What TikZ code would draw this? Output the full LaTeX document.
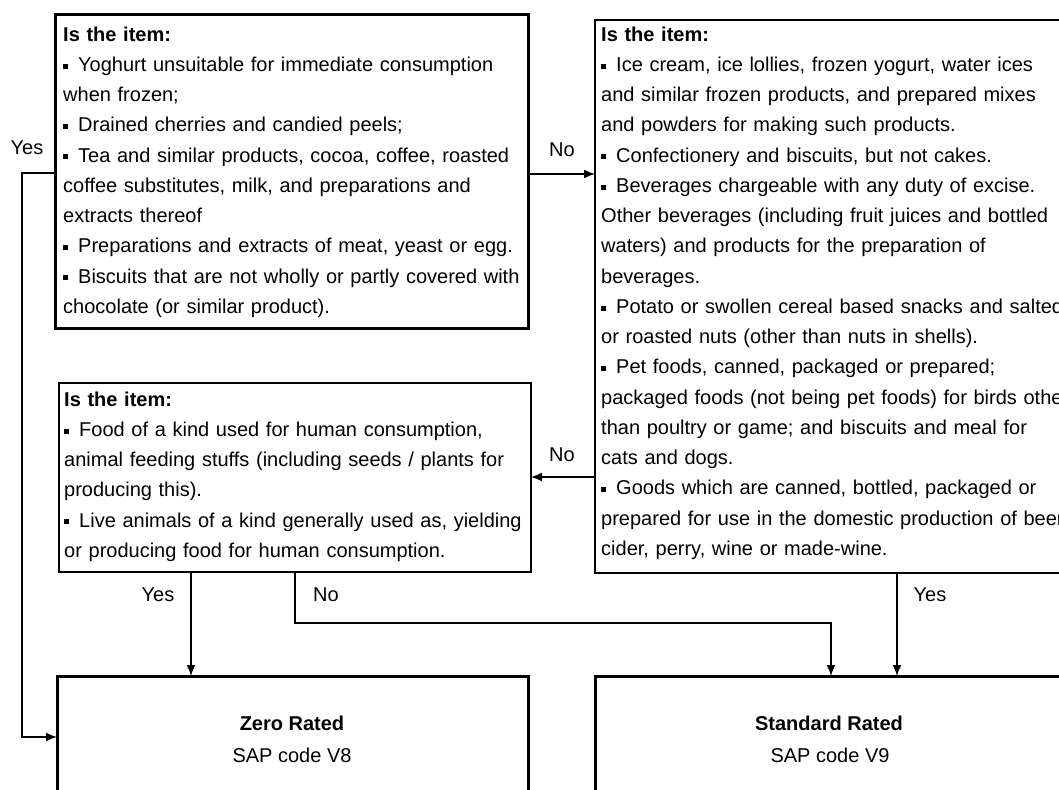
\documentclass[tikz,border=0pt]{standalone}
\usepackage{fontspec}
\setmainfont{Liberation Sans}
\usetikzlibrary{arrows.meta}
\newcommand\sqbul{\rule[0.14em]{0.25em}{0.25em}\hspace{0.5em}}
\begin{document}
\begin{tikzpicture}[x=1pt,y=-1pt,
  font=\fontsize{20}{30.25}\selectfont,
  boxthick/.style={draw, line width=3pt, outer sep=0pt, inner sep=0pt, anchor=north west},
  boxthin/.style={draw, line width=1.6pt, outer sep=0pt, inner sep=0pt, anchor=north west},
  txt/.style={anchor=north west, inner sep=0pt, text width=#1, align=left},
  conn/.style={line width=1.5pt},
  arr/.style={conn, -{Latex[length=11pt,width=9pt]}},
  lbl/.style={inner sep=0pt}]
\useasboundingbox (0,0) rectangle (1059,789);
\clip (0,0) rectangle (1059,789);

% boxes
\node[boxthick, minimum width=473pt, minimum height=313pt] (b1) at (55,15) {};
\node[boxthin, minimum width=469pt, minimum height=553pt] (b2) at (595,20) {};
\node[boxthin, minimum width=472pt, minimum height=189pt] (b3) at (59,383) {};
\node[boxthick, minimum width=471pt, minimum height=150pt] (b4) at (57,676) {};
\node[boxthick, minimum width=468pt, minimum height=150pt] (b5) at (595,676) {};

% texts
\node[txt=560pt] (t1) at (63,19.8) {\strut\textbf{Is the item:}\\
\sqbul Yoghurt unsuitable for immediate consumption\\
when frozen;\\
\sqbul Drained cherries and candied peels;\\
\sqbul Tea and similar products, cocoa, coffee, roasted\\
coffee substitutes, milk, and preparations and\\
extracts thereof\\
\sqbul Preparations and extracts of meat, yeast or egg.\\
\sqbul Biscuits that are not wholly or partly covered with\\
chocolate (or similar product).};

\node[txt=600pt] (t2) at (601,19.8) {\strut\textbf{Is the item:}\\
\sqbul Ice cream, ice lollies, frozen yogurt, water ices\\
and similar frozen products, and prepared mixes\\
and powders for making such products.\\
\sqbul Confectionery and biscuits, but not cakes.\\
\sqbul Beverages chargeable with any duty of excise.\\
Other beverages (including fruit juices and bottled\\
waters) and products for the preparation of\\
beverages.\\
\sqbul Potato or swollen cereal based snacks and salted\\
or roasted nuts (other than nuts in shells).\\
\sqbul Pet foods, canned, packaged or prepared;\\
packaged foods (not being pet foods) for birds other\\
than poultry or game; and biscuits and meal for\\
cats and dogs.\\
\sqbul Goods which are canned, bottled, packaged or\\
prepared for use in the domestic production of beer,\\
cider, perry, wine or made-wine.};

\node[txt=560pt] (t3) at (64,384.8) {\strut\textbf{Is the item:}\\
\sqbul Food of a kind used for human consumption,\\
animal feeding stuffs (including seeds / plants for\\
producing this).\\
\sqbul Live animals of a kind generally used as, yielding\\
or producing food for human consumption.};

\node[anchor=base, inner sep=0pt] (z1) at (292,730) {\textbf{Zero Rated}};
\node[anchor=base, inner sep=0pt] (z2) at (292,762) {SAP code V8};
\node[anchor=base, inner sep=0pt] (s1) at (829,730) {\textbf{Standard Rated}};
\node[anchor=base, inner sep=0pt] (s2) at (830,762) {SAP code V9};

% connectors
\coordinate (c1) at (22,173);
\coordinate (c2) at (22,737);
\draw[arr] (c1 -| b1.west) -- (c1) -- (c2) -- (c2 -| b4.west);
\coordinate (c3) at (0,174);
\draw[arr] (c3 -| b1.east) -- (c3 -| b2.west);
\coordinate (c4) at (0,477);
\draw[arr] (c4 -| b2.west) -- (c4 -| b3.east);
\coordinate (c5) at (191,0);
\draw[arr] (c5 |- b3.south) -- (c5 |- b4.north);
\coordinate (c6) at (295,623);
\coordinate (c7) at (831,623);
\draw[arr] (c6 |- b3.south) -- (c6) -- (c7) -- (c7 |- b5.north);
\coordinate (c8) at (897,0);
\draw[arr] (c8 |- b2.south) -- (c8 |- b5.north);

% labels
\node[lbl] (l1) at (27,148) {Yes};
\node[lbl] (l2) at (562,150) {No};
\node[lbl] (l3) at (562,455) {No};
\node[lbl] (l4) at (158,595) {Yes};
\node[lbl] (l5) at (326,595) {No};
\node[lbl] (l6) at (930,595) {Yes};
\end{tikzpicture}
\end{document}
